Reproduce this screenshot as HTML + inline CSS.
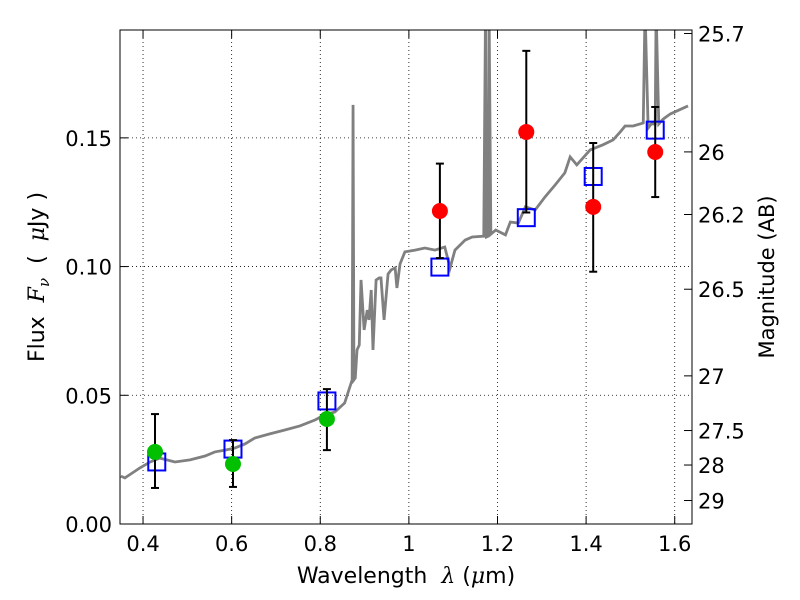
<!DOCTYPE html>
<html><head><meta charset="utf-8"><style>
body{margin:0;background:#fff}
svg{display:block;font-family:"DejaVu Sans","Liberation Sans",sans-serif}
.pre{white-space:pre}
</style></head><body>
<svg id="chart" width="800" height="600">
<rect width="800" height="600" fill="#fff"/>
<g id="grid"></g><g id="spec"></g><g id="marks"></g><g id="axes"></g>
<text class="pre" x="406" y="583" font-size="22" text-anchor="middle">Wavelength  <tspan font-style="italic" font-family="DejaVu Serif,serif">λ</tspan> (<tspan font-style="italic" font-family="DejaVu Serif,serif">μ</tspan>m)</text>
<text class="pre" transform="translate(44,277) rotate(-90)" font-size="22" text-anchor="middle">Flux  <tspan font-style="italic" font-family="DejaVu Serif,serif">F</tspan><tspan font-style="italic" font-size="15" dy="5" font-family="DejaVu Serif,serif">ν</tspan><tspan dy="-5">  (  </tspan><tspan font-style="italic" font-family="DejaVu Serif,serif">μ</tspan>Jy )</text>
<text transform="translate(774,277) rotate(-90)" font-size="21" text-anchor="middle">Magnitude (AB)</text>
</svg>
<script>
const specLam=[0.350,0.359,0.393,0.416,0.438,0.472,0.506,0.540,0.562,0.585,0.607,0.630,0.652,0.686,0.720,0.754,0.788,0.810,0.833,0.855,0.872,0.874,0.876,0.879,0.883,0.888,0.892,0.899,0.906,0.910,0.915,0.919,0.926,0.933,0.937,0.944,0.953,0.960,0.969,0.973,0.980,0.991,1.014,1.036,1.059,1.081,1.093,1.104,1.127,1.143,1.169,1.173,1.175,1.179,1.181,1.185,1.196,1.218,1.229,1.247,1.263,1.285,1.307,1.330,1.352,1.364,1.379,1.409,1.438,1.461,1.477,1.488,1.506,1.529,1.533,1.540,1.547,1.556,1.558,1.564,1.574,1.590,1.630];
const specFlux=[0.0186,0.0179,0.0218,0.0241,0.0256,0.0241,0.0249,0.0264,0.0280,0.0287,0.0295,0.0311,0.0334,0.0350,0.0365,0.0381,0.0404,0.0424,0.0435,0.0470,0.0560,0.1628,0.0560,0.0567,0.0676,0.0695,0.0948,0.0754,0.0831,0.0793,0.0909,0.0676,0.0948,0.0956,0.0956,0.0793,0.0971,0.0987,0.0995,0.0917,0.1010,0.1057,0.1064,0.1072,0.1064,0.1076,0.0995,0.1064,0.1103,0.1115,0.1118,0.2000,0.1115,0.1118,0.2000,0.1126,0.1142,0.1123,0.1173,0.1169,0.1232,0.1220,0.1270,0.1317,0.1364,0.1426,0.1395,0.1453,0.1473,0.1492,0.1523,0.1546,0.1546,0.1558,0.2000,0.1538,0.1554,0.1554,0.2000,0.1554,0.1573,0.1593,0.1624];
const grnLam=[0.427,0.603,0.815], grnFlux=[0.0280,0.0233,0.0408], grnHi=[0.0427,0.0326,0.0524], grnLo=[0.0140,0.0144,0.0287];
const redLam=[1.070,1.265,1.416,1.556], redFlux=[0.1216,0.1523,0.1232,0.1445], redHi=[0.140,0.1838,0.148,0.162], redLo=[0.1033,0.121,0.098,0.127];
const sqLam=[0.431,0.603,0.815,1.070,1.265,1.416,1.556], sqFlux=[0.0241,0.0291,0.0478,0.0998,0.1190,0.1350,0.1530];
const xTicks=[0.4,0.6,0.8,1.0,1.2,1.4,1.6], xTickLabels=["0.4","0.6","0.8","1","1.2","1.4","1.6"];
const yTicks=[0,0.05,0.10,0.15], yTickLabels=["0.00","0.05","0.10","0.15"];
const magTicks=[25.7,26,26.2,26.5,27,27.5,28,29], magTickLabels=["25.7","26","26.2","26.5","27","27.5","28","29"];
const L=120,R=692,T=30,B=524,x0=0.348,x1=1.639,y1=0.1919;
const X=v=>L+(v-x0)/(x1-x0)*(R-L), Y=v=>B-v/y1*(B-T);
const NS="http://www.w3.org/2000/svg";
function mk(p,t,a){const e=document.createElementNS(NS,t);for(const k in a)e.setAttribute(k,a[k]);p.appendChild(e);return e;}
const grid=document.getElementById('grid'),spec=document.getElementById('spec'),marks=document.getElementById('marks'),axes=document.getElementById('axes');
xTicks.forEach((v,i)=>{const g=mk(grid,'line',{x1:X(v),x2:X(v),y1:T,y2:B,stroke:'#000','stroke-width':0.8,'stroke-dasharray':'1,3'});

mk(axes,'line',{x1:X(v),x2:X(v),y1:B,y2:B-8,stroke:'#000'});mk(axes,'line',{x1:X(v),x2:X(v),y1:T,y2:T+8,stroke:'#000'});
const t=mk(axes,'text',{x:X(v),y:B+27,'font-size':21,'text-anchor':'middle'});t.textContent=xTickLabels[i];
});
yTicks.forEach((v,i)=>{if(v>0){const g=mk(grid,'line',{x1:L,x2:R,y1:Y(v),y2:Y(v),stroke:'#000','stroke-width':0.8,'stroke-dasharray':'1,3'});
}
mk(axes,'line',{x1:L,x2:L+8,y1:Y(v),y2:Y(v),stroke:'#000'});
const t=mk(axes,'text',{x:L-8,y:Y(v)+8,'font-size':21,'text-anchor':'end'});t.textContent=yTickLabels[i];
});
magTicks.forEach((m,i)=>{const y=Y(Math.pow(10,(23.9-m)/2.5));
mk(axes,'line',{x1:R,x2:R-8,y1:y,y2:y,stroke:'#000'});
const t=mk(axes,'text',{x:R+6,y:y+8,'font-size':21});t.textContent=magTickLabels[i];
});
const sp=mk(spec,'polyline',{points:specLam.map((l,i)=>X(l)+','+Y(specFlux[i])).join(' '),fill:'none',stroke:'#808080','stroke-width':2.8,'clip-path':'url(#clip)'});

const cp=mk(document.getElementById('chart'),'clipPath',{id:'clip'});mk(cp,'rect',{x:L,y:T,width:R-L,height:B-T});
function err(l,hi,lo){const x=X(l);const e=mk(marks,'g',{stroke:'#000','stroke-width':2});

mk(e,'line',{x1:x,x2:x,y1:Y(hi),y2:Y(lo)});mk(e,'line',{x1:x-4,x2:x+4,y1:Y(hi),y2:Y(hi)});mk(e,'line',{x1:x-4,x2:x+4,y1:Y(lo),y2:Y(lo)});}
sqLam.forEach((l,i)=>{const r=mk(marks,'rect',{x:X(l)-8.5,y:Y(sqFlux[i])-8.5,width:17,height:17,fill:'none',stroke:'#0000ff','stroke-width':2});
});
grnLam.forEach((l,i)=>{err(l,grnHi[i],grnLo[i]);const c=mk(marks,'circle',{cx:X(l),cy:Y(grnFlux[i]),r:8,fill:'#00c000'});
});
redLam.forEach((l,i)=>{err(l,redHi[i],redLo[i]);const c=mk(marks,'circle',{cx:X(l),cy:Y(redFlux[i]),r:8,fill:'#ff0000'});
});
const fr=mk(axes,'rect',{x:L,y:T,width:R-L,height:B-T,fill:'none',stroke:'#000','stroke-width':1});

</script>
</body></html>
